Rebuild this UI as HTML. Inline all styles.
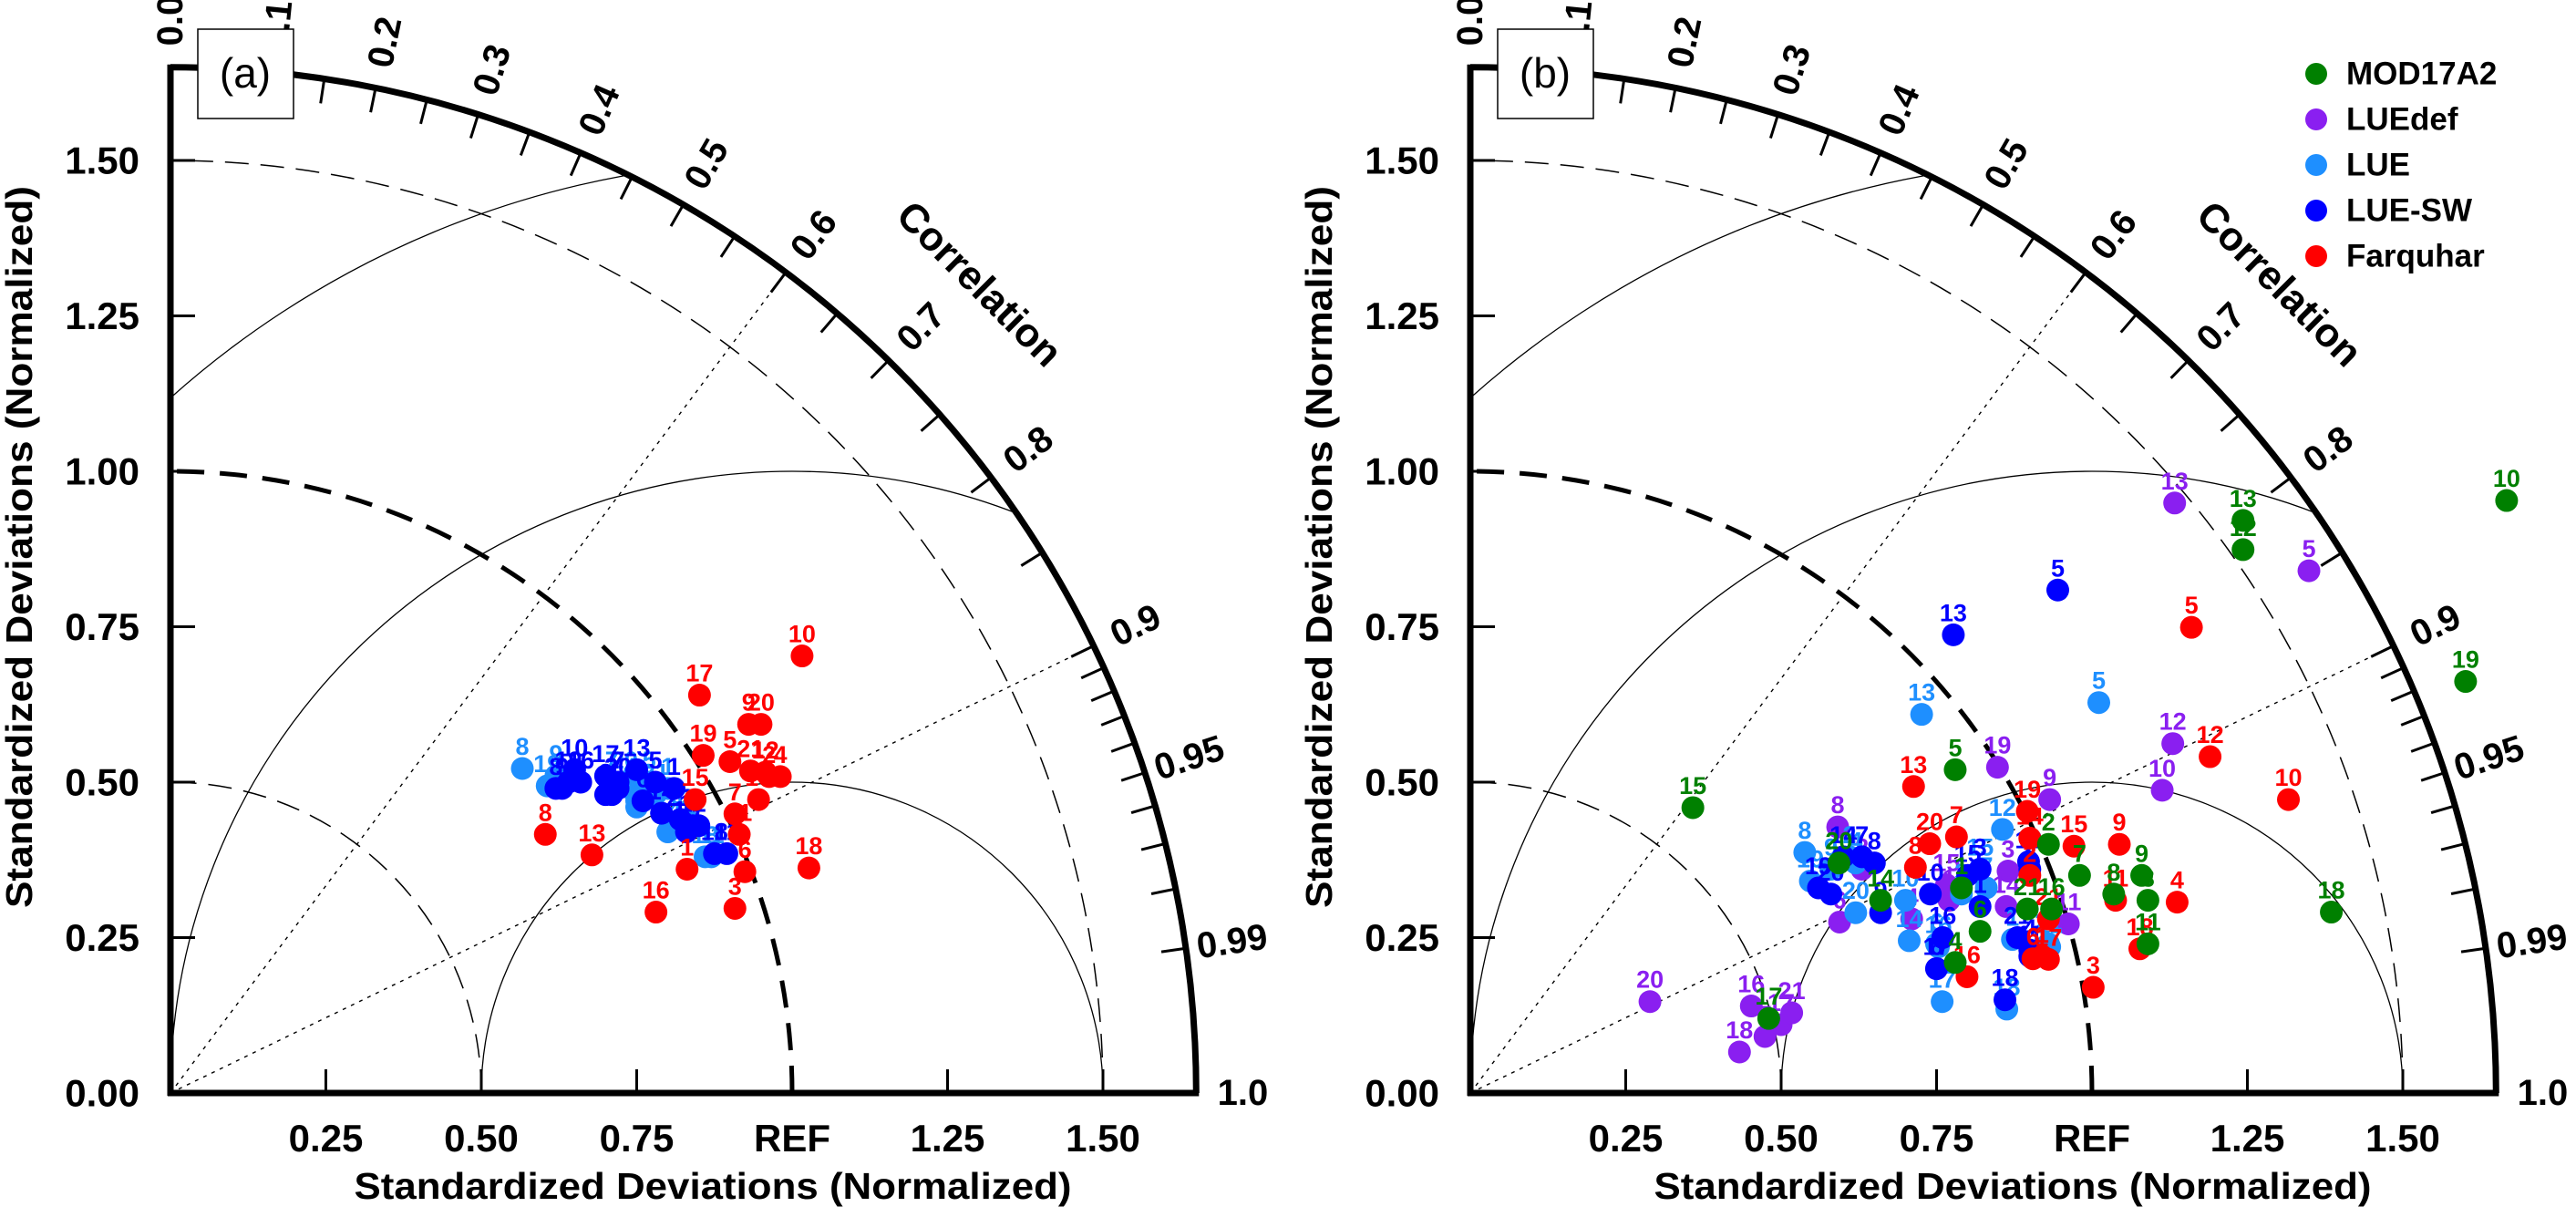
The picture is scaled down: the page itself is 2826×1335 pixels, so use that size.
<!DOCTYPE html>
<html><head><meta charset="utf-8"><style>
html,body{margin:0;padding:0;background:#fff;width:2826px;height:1335px;overflow:hidden;}
svg{display:block;font-family:"Liberation Sans",sans-serif;position:absolute;left:0;top:0;}
</style></head><body>
<svg id="fig" width="2826" height="1335" viewBox="0 0 2826 1335" xmlns="http://www.w3.org/2000/svg" overflow="hidden">
<g id="panelA"></g>
<g id="panelB"></g>
</svg>
<script>
// Normalized standard-deviation components (x = std*corr, y = std*sqrt(1-corr^2)), stations 1..21
const stationIds = [1,2,3,4,5,6,7,8,9,10,11,12,13,14,15,16,17,18,19,20,21];
// Panel (a)
const aLUE_x   = [0.80,0.84,0.75,0.74,0.77,0.75,0.71,0.566,0.62,0.65,0.87,0.82,0.75,0.80,0.83,0.79,0.70,0.86,0.606,0.73,0.78];
const aLUE_y   = [0.49,0.43,0.47,0.49,0.50,0.46,0.50,0.522,0.51,0.52,0.38,0.44,0.52,0.42,0.44,0.45,0.51,0.38,0.494,0.50,0.48];
const aLUESW_x = [0.81,0.85,0.70,0.71,0.78,0.76,0.72,0.62,0.63,0.65,0.895,0.84,0.75,0.79,0.83,0.66,0.70,0.875,0.64,0.72,0.82];
const aLUESW_y = [0.49,0.43,0.48,0.48,0.50,0.47,0.50,0.49,0.49,0.52,0.385,0.43,0.52,0.45,0.42,0.50,0.51,0.385,0.50,0.49,0.44];
const aFarq_x  = [0.831,0.963,0.908,0.981,0.90,0.924,0.908,0.603,0.93,1.016,0.915,0.957,0.678,0.946,0.844,0.781,0.851,1.027,0.857,0.95,0.933];
const aFarq_y  = [0.36,0.509,0.297,0.509,0.533,0.356,0.449,0.416,0.593,0.703,0.416,0.516,0.383,0.472,0.472,0.291,0.64,0.362,0.543,0.593,0.518];
// Panel (b)
const bMOD_x   = [0.79,0.93,1.09,0.78,0.78,0.82,0.98,1.035,1.08,1.667,1.09,1.243,1.243,0.66,0.358,0.935,0.48,1.385,1.601,0.593,0.896];
const bMOD_y   = [0.33,0.40,0.31,0.21,0.52,0.26,0.35,0.32,0.35,0.953,0.24,0.874,0.921,0.31,0.459,0.296,0.12,0.291,0.662,0.37,0.296];
const bDEF_x   = [0.77,0.63,0.865,0.71,1.349,0.594,0.474,0.591,0.932,1.113,0.962,1.13,1.133,0.862,0.766,0.452,0.50,0.433,0.848,0.289,0.517];
const bDEF_y   = [0.31,0.36,0.357,0.28,0.84,0.275,0.091,0.428,0.472,0.487,0.272,0.562,0.949,0.30,0.335,0.14,0.11,0.066,0.524,0.147,0.129];
const bLUE_x   = [0.872,0.61,0.79,0.62,1.011,0.75,0.83,0.538,0.58,0.70,0.932,0.856,0.726,0.706,0.82,0.753,0.759,0.863,0.547,0.62,0.93];
const bLUE_y   = [0.247,0.38,0.32,0.37,0.628,0.24,0.33,0.387,0.36,0.31,0.235,0.424,0.609,0.245,0.36,0.235,0.147,0.135,0.341,0.29,0.24];
const bLUESW_x = [0.82,0.90,0.82,0.90,0.945,0.75,0.63,0.65,0.66,0.74,0.90,0.898,0.777,0.60,0.80,0.76,0.75,0.86,0.56,0.58,0.88];
const bLUESW_y = [0.30,0.36,0.36,0.23,0.809,0.20,0.38,0.37,0.29,0.32,0.22,0.372,0.737,0.38,0.35,0.25,0.20,0.15,0.33,0.32,0.25];
const bFarq_x  = [0.92,0.90,1.002,1.137,1.16,0.905,0.782,0.716,1.044,1.316,1.038,1.19,0.713,0.90,0.971,0.799,0.93,1.077,0.896,0.739,0.93];
const bFarq_y  = [0.22,0.35,0.17,0.307,0.749,0.216,0.412,0.363,0.40,0.472,0.31,0.541,0.493,0.41,0.397,0.187,0.215,0.232,0.453,0.401,0.28];
// Axis ticks
const stdTicks = [0.25,0.5,0.75,1.0,1.25,1.5];
const stdTickLabels = ["0.25","0.50","0.75","REF","1.25","1.50"];
const yTickValues = [0,0.25,0.5,0.75,1.0,1.25,1.5];
const yTickLabels = ["0.00","0.25","0.50","0.75","1.00","1.25","1.50"];
const corrLabelValues = [0,0.1,0.2,0.3,0.4,0.5,0.6,0.7,0.8,0.9,0.95,0.99,1.0];
const corrLabelText = ["0.0","0.1","0.2","0.3","0.4","0.5","0.6","0.7","0.8","0.9","0.95","0.99","1.0"];
const legendNames = ["MOD17A2","LUEdef","LUE","LUE-SW","Farquhar"];

const NS = "http://www.w3.org/2000/svg";
const RMAX = 1.65, S = 682;
function mk(parent, tag, attrs, text){
  const e = document.createElementNS(NS, tag);
  for (const k in attrs) e.setAttribute(k, attrs[k]);
  if (text !== undefined) e.textContent = text;
  parent.appendChild(e);
  return e;
}
function drawPanel(g, ox, oy, letter, seriesList, clipId){
  const X = v => ox + v*S, Y = v => oy - v*S;
  const P = (r, th) => [X(r*Math.cos(th)), Y(r*Math.sin(th))];
  const defs = mk(g, 'defs', {});
  const cp = mk(defs, 'clipPath', {id: clipId});
  mk(cp, 'path', {d: `M${X(0)},${Y(0)} L${X(RMAX)},${Y(0)} A${RMAX*S},${RMAX*S} 0 0 0 ${X(0)},${Y(RMAX)} Z`});
  const grid = mk(g, 'g', {'clip-path': `url(#${clipId})`});
  
  
  [0.5, 1.5].forEach(r => {
    const a = mk(grid, 'path', {d: `M${X(r)},${Y(0)} A${r*S},${r*S} 0 0 0 ${X(0)},${Y(r)}`, fill:'none', stroke:'#000', 'stroke-width':1.5, 'stroke-dasharray':'26,13'});
    
    
  });
  [0.5, 1.0, 1.5].forEach(r => {
    const c = mk(grid, 'circle', {cx: X(1), cy: Y(0), r: r*S, fill:'none', stroke:'#000', 'stroke-width':1.3});
    
    
  });
  [0.6, 0.9].forEach(cv => {
    const th = Math.acos(cv); const p = P(RMAX, th);
    const l = mk(grid, 'line', {x1: X(0), y1: Y(0), x2: p[0], y2: p[1], stroke:'#000', 'stroke-width':1.4, 'stroke-dasharray':'4,6'});
    
    
  });
  const ref = mk(g, 'path', {d: `M${X(1)},${Y(0)} A${S},${S} 0 0 0 ${X(0)},${Y(1)}`, fill:'none', stroke:'#000', 'stroke-width':5, 'stroke-dasharray':'30,17'});
  
  
  const outer = mk(g, 'path', {d: `M${X(RMAX)},${Y(0)} A${RMAX*S},${RMAX*S} 0 0 0 ${X(0)},${Y(RMAX)}`, fill:'none', stroke:'#000', 'stroke-width':7});
  
  
  const xa = mk(g, 'line', {x1: X(0)-3, y1: Y(0), x2: X(RMAX)+3, y2: Y(0), stroke:'#000', 'stroke-width':7});
  
  
  const ya = mk(g, 'line', {x1: X(0), y1: Y(0)+3, x2: X(0), y2: Y(RMAX)-3, stroke:'#000', 'stroke-width':7});
  
  
  const ct = [];
  for (let i = 1; i <= 18; i++) ct.push(i*0.05);
  for (let i = 91; i <= 99; i++) ct.push(i/100);
  ct.forEach(cv => {
    const th = Math.acos(cv); const a = P(RMAX, th), b = P(RMAX-0.04, th);
    const t = mk(g, 'line', {x1:a[0], y1:a[1], x2:b[0], y2:b[1], stroke:'#000', 'stroke-width':3});
    
    
  });
  corrLabelValues.forEach((cv, i) => {
    const th = Math.acos(cv); const p = P(1.725, th);
    const deg = th*180/Math.PI;
    const t = mk(g, 'text', {x:p[0], y:p[1], 'text-anchor':'middle', 'dominant-baseline':'central', 'font-size':40, 'font-weight':'bold', transform:`rotate(${-deg} ${p[0]} ${p[1]})`}, corrLabelText[i]);
    
    
  });
  const cp2 = P(1.84, Math.PI/4);
  const ct2 = mk(g, 'text', {x:cp2[0], y:cp2[1], 'text-anchor':'middle', 'dominant-baseline':'central', 'font-size':44, 'font-weight':'bold', transform:`rotate(45 ${cp2[0]} ${cp2[1]})`}, 'Correlation');
  
  
  stdTicks.forEach((v, i) => {
    const t = mk(g, 'line', {x1:X(v), y1:Y(0), x2:X(v), y2:Y(0)-26, stroke:'#000', 'stroke-width':3});
    
    
    const l = mk(g, 'text', {x:X(v), y:Y(0)+64, 'text-anchor':'middle', 'font-size':42, 'font-weight':'bold'}, stdTickLabels[i]);
    
    
  });
  yTickValues.forEach((v, i) => {
    if (v > 0) {
      const t = mk(g, 'line', {x1:X(0), y1:Y(v), x2:X(0)+27, y2:Y(v), stroke:'#000', 'stroke-width':3});
      
      
    }
    const l = mk(g, 'text', {x:X(0)-34, y:Y(v), 'text-anchor':'end', 'dominant-baseline':'central', 'font-size':42, 'font-weight':'bold'}, yTickLabels[i]);
    
    
  });
  const xt = mk(g, 'text', {x:ox+595, y:1315, 'text-anchor':'middle', 'font-size':41, 'font-weight':'bold', textLength:787, lengthAdjust:'spacingAndGlyphs'}, 'Standardized Deviations (Normalized)');
  
  
  const yx = ox - 166, yy = 600;
  const yt = mk(g, 'text', {x:yx, y:yy, 'text-anchor':'middle', 'dominant-baseline':'central', 'font-size':41, 'font-weight':'bold', textLength:792, lengthAdjust:'spacingAndGlyphs', transform:`rotate(-90 ${yx} ${yy})`}, 'Standardized Deviations (Normalized)');
  
  
  const bx = mk(g, 'rect', {x:ox+30, y:32, width:105, height:98, fill:'#fff', stroke:'#000', 'stroke-width':1.5});
  
  
  const lt = mk(g, 'text', {x:ox+82, y:96, 'text-anchor':'middle', 'font-size':46}, `(${letter})`);
  
  
  seriesList.forEach(s => {
    const sg = mk(g, 'g', {});
    
    
    s.xs.forEach((xv, i) => {
      const c = mk(sg, 'circle', {cx:X(xv), cy:Y(s.ys[i]), r:12.5, fill:s.color});
      
      
      const t = mk(sg, 'text', {x:X(xv), y:Y(s.ys[i])-15, 'text-anchor':'middle', 'font-size':27, 'font-weight':'bold', fill:s.color}, String(stationIds[i]));
      
      
    });
  });
}
const C = {MOD17A2:'#008000', LUEdef:'#8A1FF0', LUE:'#1E8FFF', 'LUE-SW':'#0000FF', Farquhar:'#FF0000'};
drawPanel(document.getElementById('panelA'), 187, 1199, 'a', [
  {name:'LUE', color:C.LUE, xs:aLUE_x, ys:aLUE_y},
  {name:'LUE-SW', color:C['LUE-SW'], xs:aLUESW_x, ys:aLUESW_y},
  {name:'Farquhar', color:C.Farquhar, xs:aFarq_x, ys:aFarq_y}
], 'clipA');
drawPanel(document.getElementById('panelB'), 1613, 1199, 'b', [
  {name:'LUEdef', color:C.LUEdef, xs:bDEF_x, ys:bDEF_y},
  {name:'LUE', color:C.LUE, xs:bLUE_x, ys:bLUE_y},
  {name:'LUE-SW', color:C['LUE-SW'], xs:bLUESW_x, ys:bLUESW_y},
  {name:'Farquhar', color:C.Farquhar, xs:bFarq_x, ys:bFarq_y},
  {name:'MOD17A2', color:C.MOD17A2, xs:bMOD_x, ys:bMOD_y}
], 'clipB');
const lg = mk(document.getElementById('panelB'), 'g', {});


legendNames.forEach((n, i) => {
  const y = 81 + i*50;
  const c = mk(lg, 'circle', {cx:2541, cy:y, r:12, fill:C[n]});
  
  
  const t = mk(lg, 'text', {x:2574, y:y, 'dominant-baseline':'central', 'font-size':35, 'font-weight':'bold'}, n);
  
  
});
</script>
</body></html>
